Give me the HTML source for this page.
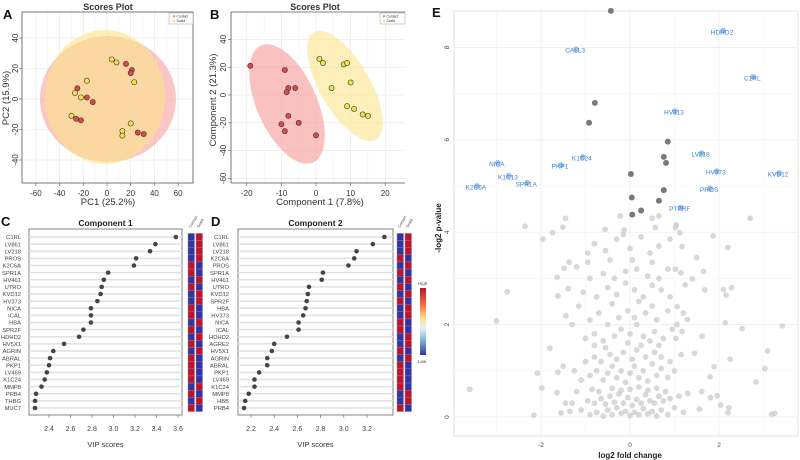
<!DOCTYPE html>
<html><head><meta charset="utf-8">
<style>
html,body{margin:0;padding:0;background:#fff;}
svg{display:block;font-family:"Liberation Sans",sans-serif;}
</style></head>
<body>
<svg id="fig" width="800" height="460" viewBox="0 0 800 460" xmlns="http://www.w3.org/2000/svg">
<g id="gA"></g>
<g id="gB"></g>
<g id="gC"></g>
<g id="gD"></g>
<g id="gE"></g>
</svg>
<script>
// ---- Panel A data ----
const aRedX=[-25,-17,-12,-26,-22,16,21,20,26,31];
const aRedY=[7,1,-2,-13,-14,23,19,17,-22,-23];
const aYelX=[4,8,-17,-27,-22,-30,23,20,13,13];
const aYelY=[26,24,12,4,1,-11,11,-16,-21,-24];
const aTicksX=[-60,-40,-20,0,20,40,60];
const aTicksY=[-40,-20,0,20,40];
// ---- Panel B data ----
const bRedX=[-19,-9,-8,-6,-8.5,-8,-5,-10,-9,0];
const bRedY=[21,18,5,5,2,-15,-20,-21,-26,-29];
const bYelX=[1,2,8,9,10,4.5,9,11,13.5,15];
const bYelY=[26,23,22,23,9,5,-8,-10,-14,-15];
const bTicksX=[-20,-10,0,10,20];
const bTicksY=[-60,-40,-20,0,20,40];
// ---- Panel C data ----
const cNames=["C1RL","LV861","LV218","PROS","K2C6A","SPR1A","HV461","UTRO","KVD12","HV373","NICA","ICAL","HBA","SPR2F","HDHD2","HV5X1","AGRIN","ABRAL","PKP1","LV469","K1C24","MMP8","PRB4","THBG","MUC7"];
const cVip=[3.58,3.39,3.34,3.21,3.19,2.95,2.91,2.89,2.88,2.85,2.79,2.79,2.79,2.72,2.68,2.54,2.44,2.41,2.40,2.38,2.36,2.33,2.28,2.27,2.27];
const cContactHigh=[0,0,0,0,1,1,0,1,0,0,1,1,0,1,0,1,0,1,1,1,1,0,1,0,1];
const cTicks=[2.4,2.6,2.8,3.0,3.2,3.4,3.6];
// ---- Panel D data ----
const dNames=["C1RL","LV861","LV218","K2C6A","PROS","SPR1A","HV461","UTRO","KVD12","SPR2F","HBA","HV373","NICA","ICAL","HDHD2","AGRE2","HV5X1","AGRIN","ABRAL","PKP1","LV469","K1C24","MMP8","HBB","PRB4"];
const dVip=[3.35,3.25,3.11,3.09,3.04,2.82,2.81,2.70,2.69,2.68,2.67,2.65,2.61,2.61,2.51,2.40,2.38,2.34,2.34,2.27,2.23,2.23,2.18,2.15,2.14];
const dContactHigh=[0,0,0,1,0,1,0,1,0,1,0,0,1,1,0,0,1,0,1,1,1,1,0,0,1];
const dTicks=[2.2,2.4,2.6,2.8,3.0,3.2];
// ---- Panel E data ----
const eSigNames=["HDHD2","CALL3","C1RL","HV313","LV218","HV373","KVD12","PROS","PTPRF","K1C24","PKP1","NICA","K1C13","SPR1A","K2C6A"];
const eSigX=[2.09,-1.21,2.77,1.01,1.61,1.95,3.35,1.80,1.14,-1.06,-1.55,-2.97,-2.72,-2.31,-3.44];
const eSigY=[8.36,7.96,7.36,6.62,5.71,5.32,5.28,4.95,4.53,5.63,5.45,5.50,5.22,5.07,5.00];
const eMidX=[-0.43,-0.79,-0.92,0.85,0.76,0.81,0.02,0.76,0.04,0.65,0.25,0.05];
const eMidY=[8.79,6.80,6.37,5.96,5.63,5.50,5.26,4.91,4.75,4.68,4.47,4.38];
const eBgX=[-3.6,-3.0,-2.76,-2.36,-2.16,-2.08,-1.98,-1.96,-1.8,-1.74,-1.64,-1.62,-1.64,-1.62,-1.55,-1.51,-1.5,-1.48,-1.45,-1.44,-1.39,-1.37,-1.35,
1.87,2.2,2.1,2.16,2.28,2.14,2.52,3.42,3.09,3.03,2.83,2.25,1.89,1.8,1.96,2.04,2.22,2.2,3.18,3.25,1.65,1.68,1.62,1.45,1.5,1.4,1.24,1.14,1.17,1.12,1.02,1.29,1.17,1.03,1.06,1.02,1.81,1.61,1.56,1.3,
-1.45,-0.22,0.5,0.65,1.04,2.7,-0.56,-0.13,0.57,
-0.9,-0.75,-0.6,-0.5,-0.4,-0.3,-0.2,-0.1,0,0.1,0.2,0.3,0.4,0.5,0.6,0.7,0.85,1.0,1.2,-1.1,-1.3,-0.95,-0.8,-0.65,-0.55,-0.45,-0.35,-0.25,-0.15,-0.05,0.05,0.15,0.25,0.35,0.45,0.55,0.65,0.75,0.9,1.1,-1.2,-0.85,-0.7,-0.4,-0.2,0.0,0.2,0.4,0.6,0.8,
-1.1,-0.9,-0.75,-0.6,-0.5,-0.4,-0.3,-0.2,-0.1,0.0,0.1,0.2,0.3,0.4,0.5,0.6,0.7,0.85,1.0,-1.0,-0.8,-0.65,-0.45,-0.3,-0.15,0.05,0.15,0.35,0.55,0.7,0.9,1.15,-1.25,-0.55,0.25,-0.05,0.45,
-1.0,-0.8,-0.6,-0.35,-0.2,0.0,0.15,0.3,0.55,0.75,0.95,-0.9,-0.7,-0.5,-0.25,-0.05,0.1,0.35,0.6,0.85,1.05,-1.15,-0.4,0.2,0.5,-1.3,1.2,-0.8,0.65,
-1.05,-0.75,-0.5,-0.3,-0.1,0.1,0.3,0.5,0.7,0.9,-0.9,-0.6,-0.35,-0.1,0.15,0.4,0.65,0.85,-1.2,-0.95,-0.45,0.05,0.5,
-0.8,-0.55,-0.3,0,0.25,0.45,0.65,-0.95,-0.15,0.9];
const eBgY=[0.6,2.08,2.71,4.13,0.04,0.95,0.63,3.85,1.49,3.99,3.02,2.62,0.53,0.97,0.09,4.11,1.1,3.22,0.3,2.19,2.78,3.35,0.12,
3.92,3.67,2.76,2.64,2.8,2.04,1.91,1.97,1.43,1.05,0.76,1.25,1.09,0.87,0.46,0.26,0.2,0.09,0.06,0.08,3.15,2.75,1.75,1.38,3.45,2.99,2.86,3.12,3.69,3.99,4.1,2.11,1.85,1.7,2.39,3.2,0.42,0.55,0.17,0.51,
4.3,4.35,4.3,4.35,4.16,4.3,4.06,4.05,4.1,
0.05,0.1,0.02,0.15,0.05,0.2,0.08,0.12,0.03,0.1,0.05,0.18,0.07,0.12,0.02,0.15,0.05,0.2,0.1,0.15,0.3,0.35,0.3,0.4,0.28,0.45,0.32,0.5,0.3,0.42,0.25,0.38,0.3,0.48,0.35,0.3,0.45,0.35,0.4,0.45,0.55,0.6,0.55,0.62,0.58,0.6,0.65,0.58,0.62,0.55,
0.8,0.9,1.0,0.8,0.95,1.1,0.85,1.0,0.75,0.95,1.1,0.85,1.0,0.78,1.15,0.9,1.05,0.85,1.0,1.2,1.3,1.2,1.35,1.25,1.4,1.25,1.45,1.3,1.4,1.3,1.2,1.35,1.0,1.5,1.55,1.6,1.65,
1.7,1.8,1.65,1.75,1.9,1.8,2.0,1.75,1.85,1.7,1.9,2.1,2.25,2.0,2.15,2.3,2.15,2.25,2.1,2.3,2.0,2.4,2.45,2.5,2.4,2.0,2.25,1.55,1.55,
2.7,2.6,2.8,2.65,2.9,2.75,2.6,2.85,2.75,2.6,3.0,3.1,3.0,3.15,3.2,3.05,3.0,3.2,3.25,3.35,3.4,3.4,3.35,
3.75,3.6,3.85,3.65,3.9,3.55,3.7,3.55,3.95,3.85];
const eTicksX=[-2,0,2];
const eTicksY=[0,2,4,6,8];

const NS="http://www.w3.org/2000/svg";
function mk(parent,tag,attrs,text){const e=document.createElementNS(NS,tag);for(const k in attrs)e.setAttribute(k,attrs[k]);if(text!==undefined)e.textContent=text;parent.appendChild(e);return e;}
function lin(d0,d1,p0,p1){return v=>p0+(v-d0)*(p1-p0)/(d1-d0);}

// ===== Panel A =====
(function(){
const g=document.getElementById('gA');
const X=lin(0,20,107,130.7), Y=lin(0,20,99,68.5);
const L=22,R=193,T=12,B=183;
mk(g,'rect',{x:L,y:T,width:R-L,height:B-T,fill:'#fff'});
aTicksX.forEach(t=>{mk(g,'line',{x1:X(t),x2:X(t),y1:T,y2:B,stroke:'#e6e6e6','stroke-width':0.6});});
[-50,-30,-10,10,30,50].forEach(t=>{mk(g,'line',{x1:X(t),x2:X(t),y1:T,y2:B,stroke:'#f2f2f2','stroke-width':0.5});});
aTicksY.forEach(t=>{mk(g,'line',{x1:L,x2:R,y1:Y(t),y2:Y(t),stroke:'#e6e6e6','stroke-width':0.6});});
const e1=mk(g,'ellipse',{cx:108,cy:99,rx:68,ry:63,fill:'#f7a0a0','fill-opacity':0.6});

const e2=mk(g,'ellipse',{cx:105,cy:97,rx:60,ry:67,fill:'#fbe48a','fill-opacity':0.6});

mk(g,'rect',{x:L,y:T,width:R-L,height:B-T,fill:'none',stroke:'#555','stroke-width':0.8});
aRedX.forEach((v,i)=>{const c=mk(g,'circle',{cx:X(v),cy:Y(aRedY[i]),r:2.6,fill:'#e04848',stroke:'#333','stroke-width':0.6});
});
aYelX.forEach((v,i)=>{const c=mk(g,'circle',{cx:X(v),cy:Y(aYelY[i]),r:2.6,fill:'#f4e04a',stroke:'#333','stroke-width':0.6});
});
aTicksX.forEach(t=>{mk(g,'line',{x1:X(t),x2:X(t),y1:B,y2:B+3,stroke:'#555','stroke-width':0.6});
mk(g,'text',{x:X(t),y:196,'font-size':8,'text-anchor':'middle',fill:'#333'},t);});
aTicksY.forEach(t=>{mk(g,'line',{x1:L-3,x2:L,y1:Y(t),y2:Y(t),stroke:'#555','stroke-width':0.6});
mk(g,'text',{x:0,y:0,'font-size':8,'text-anchor':'middle',fill:'#333',transform:`translate(18,${Y(t)}) rotate(-90)`},t);});
const lg=mk(g,'g',{});
mk(lg,'rect',{x:169,y:13,width:24,height:11,fill:'#fff',stroke:'#888','stroke-width':0.4});
mk(lg,'circle',{cx:174,cy:16.3,r:1.2,fill:'#f08080'});mk(lg,'text',{x:176.5,y:17.5,'font-size':3.4,fill:'#333'},'Contact');
mk(lg,'circle',{cx:174,cy:21,r:1.2,fill:'#f0e070'});mk(lg,'text',{x:176.5,y:22.2,'font-size':3.4,fill:'#333'},'Scald');
mk(g,'text',{x:108,y:10,'font-size':9,'font-weight':'bold','text-anchor':'middle',fill:'#333'},'Scores Plot');
mk(g,'text',{x:108,y:205,'font-size':9.5,'text-anchor':'middle',fill:'#333'},'PC1 (25.2%)');
mk(g,'text',{x:0,y:0,'font-size':9.5,'text-anchor':'middle',fill:'#333',transform:'translate(9,98) rotate(-90)'},'PC2 (15.9%)');
mk(g,'text',{x:3,y:19,'font-size':13,'font-weight':'bold',fill:'#111'},'A');
})();

// ===== Panel B =====
(function(){
const g=document.getElementById('gB');
const X=lin(0,10,316,350.6), Y=lin(0,20,95,67.2);
const L=231,R=405,T=12,B=183;
[-15,-5,5,15].forEach(t=>{mk(g,'line',{x1:X(t),x2:X(t),y1:T,y2:B,stroke:'#f2f2f2','stroke-width':0.5});});
bTicksX.forEach(t=>{mk(g,'line',{x1:X(t),x2:X(t),y1:T,y2:B,stroke:'#e6e6e6','stroke-width':0.6});});
bTicksY.forEach(t=>{mk(g,'line',{x1:L,x2:R,y1:Y(t),y2:Y(t),stroke:'#e6e6e6','stroke-width':0.6});});
const e1=mk(g,'ellipse',{cx:287,cy:104,rx:30,ry:64,fill:'#f7a0a0','fill-opacity':0.65,transform:'rotate(-24 287 104)'});

const e2=mk(g,'ellipse',{cx:345,cy:86,rx:25,ry:62,fill:'#fbe48a','fill-opacity':0.6,transform:'rotate(-30 345 86)'});

mk(g,'line',{x1:L,x2:R,y1:B,y2:B,stroke:'#555','stroke-width':0.8});
mk(g,'line',{x1:L,x2:L,y1:T,y2:B,stroke:'#555','stroke-width':0.8});
mk(g,'line',{x1:L,x2:R,y1:T,y2:T,stroke:'#555','stroke-width':0.8});
bRedX.forEach((v,i)=>{const c=mk(g,'circle',{cx:X(v),cy:Y(bRedY[i]),r:2.6,fill:'#e04848',stroke:'#333','stroke-width':0.6});
});
bYelX.forEach((v,i)=>{const c=mk(g,'circle',{cx:X(v),cy:Y(bYelY[i]),r:2.6,fill:'#f4e04a',stroke:'#333','stroke-width':0.6});
});
bTicksX.forEach(t=>{mk(g,'line',{x1:X(t),x2:X(t),y1:B,y2:B+3,stroke:'#555','stroke-width':0.6});
mk(g,'text',{x:X(t),y:196,'font-size':8,'text-anchor':'middle',fill:'#333'},t);});
bTicksY.forEach(t=>{mk(g,'line',{x1:L-3,x2:L,y1:Y(t),y2:Y(t),stroke:'#555','stroke-width':0.6});
mk(g,'text',{x:0,y:0,'font-size':8,'text-anchor':'middle',fill:'#333',transform:`translate(226,${Y(t)}) rotate(-90)`},t);});
const lg=mk(g,'g',{});
mk(lg,'rect',{x:380,y:13,width:25,height:11,fill:'#fff',stroke:'#888','stroke-width':0.4});
mk(lg,'circle',{cx:384,cy:16.3,r:1.2,fill:'#f08080'});mk(lg,'text',{x:386.5,y:17.5,'font-size':3.4,fill:'#333'},'Contact');
mk(lg,'circle',{cx:384,cy:21,r:1.2,fill:'#f0e070'});mk(lg,'text',{x:386.5,y:22.2,'font-size':3.4,fill:'#333'},'Scald');
mk(g,'text',{x:315,y:10,'font-size':9,'font-weight':'bold','text-anchor':'middle',fill:'#333'},'Scores Plot');
mk(g,'text',{x:320,y:205,'font-size':9.5,'text-anchor':'middle',fill:'#333'},'Component 1 (7.8%)');
mk(g,'text',{x:0,y:0,'font-size':9.5,'text-anchor':'middle',fill:'#333',transform:'translate(216,100) rotate(-90)'},'Component 2 (21.3%)');
mk(g,'text',{x:210,y:19,'font-size':13,'font-weight':'bold',fill:'#111'},'B');
})();

// ===== VIP panels =====
function vip(gid,names,vals,hi,ticks,cfg){
const g=document.getElementById(gid);
const X=lin(ticks[0],ticks[1],cfg.t0,cfg.t1);
const T=229,B=415,y0=237,step=(408-237)/24;
mk(g,'rect',{x:cfg.L,y:T,width:cfg.R-cfg.L,height:B-T,fill:'#fff',stroke:'#777','stroke-width':0.9});
names.forEach((n,i)=>{const y=y0+i*step;
mk(g,'line',{x1:cfg.L,x2:cfg.R,y1:y,y2:y,stroke:'#e0e0e0','stroke-width':1.6});
const lb=mk(g,'text',{x:cfg.lx,y:y+2.2,'font-size':5.8,'text-anchor':'end',fill:'#444'},n);

const c=mk(g,'circle',{cx:X(vals[i]),cy:y,r:2.3,fill:'#444'});

const h1=mk(g,'rect',{x:cfg.hx,y:y-step/2,width:6.5,height:step,fill:hi[i]?'#c0142e':'#3333a8',stroke:'#888','stroke-width':0.4});

const h2=mk(g,'rect',{x:cfg.hx+8,y:y-step/2,width:6.5,height:step,fill:hi[i]?'#3333a8':'#c0142e',stroke:'#888','stroke-width':0.4});

});
ticks.forEach(t=>{mk(g,'line',{x1:X(t),x2:X(t),y1:B,y2:B+3,stroke:'#666','stroke-width':0.6});
mk(g,'text',{x:X(t),y:431,'font-size':7,'text-anchor':'middle',fill:'#444'},t.toFixed(1));});
mk(g,'text',{x:(cfg.L+cfg.R)/2,y:447,'font-size':7.5,'text-anchor':'middle',fill:'#333'},'VIP scores');
mk(g,'text',{x:(cfg.L+cfg.R)/2,y:226,'font-size':8.5,'font-weight':'bold','text-anchor':'middle',fill:'#222'},cfg.title);
mk(g,'text',{x:0,y:0,'font-size':3.8,fill:'#444',transform:`translate(${cfg.hx+3},${T-1}) rotate(-60)`},'Contact');
mk(g,'text',{x:0,y:0,'font-size':3.8,fill:'#444',transform:`translate(${cfg.hx+11},${T-1}) rotate(-60)`},'Scald');
mk(g,'text',{x:cfg.px,y:226,'font-size':13,'font-weight':'bold',fill:'#111'},cfg.letter);
}
vip('gC',cNames,cVip,cContactHigh,cTicks,{L:29,R:182,t0:49,t1:70.5,lx:21,hx:188,title:'Component 1',letter:'C',px:1});
vip('gD',dNames,dVip,dContactHigh,dTicks,{L:238,R:393,t0:251,t1:274.2,lx:229,hx:397,title:'Component 2',letter:'D',px:211});

// ===== Panel E =====
(function(){
const g=document.getElementById('gE');
const X=lin(0,1,630,674.5), Y=lin(0,1,417,370.8);
const L=454,R=798,T=11,B=436;
mk(g,'rect',{x:L,y:T,width:R-L,height:B-T,fill:'#fff',stroke:'#d0d0d0','stroke-width':0.6});
[-3,-1,1,3].forEach(t=>mk(g,'line',{x1:X(t),x2:X(t),y1:T,y2:B,stroke:'#f3f3f3','stroke-width':0.6}));
eTicksX.forEach(t=>mk(g,'line',{x1:X(t),x2:X(t),y1:T,y2:B,stroke:'#ebebeb','stroke-width':0.7}));
[1,3,5,7].forEach(t=>mk(g,'line',{x1:L,x2:R,y1:Y(t),y2:Y(t),stroke:'#f3f3f3','stroke-width':0.6}));
eTicksY.forEach(t=>mk(g,'line',{x1:L,x2:R,y1:Y(t),y2:Y(t),stroke:'#ebebeb','stroke-width':0.7}));
eBgX.forEach((v,i)=>{const c=mk(g,'circle',{cx:X(v),cy:Y(eBgY[i]),r:2.9,fill:'#c8c8c8','fill-opacity':0.7});
});
eMidX.forEach((v,i)=>{const c=mk(g,'circle',{cx:X(v),cy:Y(eMidY[i]),r:3,fill:'#7a7a7a'});
});
eSigX.forEach((v,i)=>{const c=mk(g,'circle',{cx:X(v),cy:Y(eSigY[i]),r:2.9,fill:'#9cc0ec'});

const t=mk(g,'text',{x:X(v)-1,y:Y(eSigY[i])+3.5,'font-size':6.5,'text-anchor':'middle',fill:'#3d82d4'},eSigNames[i]);
});
eTicksX.forEach(t=>mk(g,'text',{x:X(t),y:447,'font-size':6.5,'text-anchor':'middle',fill:'#444'},t));
eTicksY.forEach(t=>mk(g,'text',{x:0,y:0,'font-size':6.5,'text-anchor':'middle',fill:'#444',transform:`translate(449,${Y(t)}) rotate(-90)`},t));
mk(g,'text',{x:630,y:458,'font-size':8,'font-weight':'bold','text-anchor':'middle',fill:'#222'},'log2 fold change');
mk(g,'text',{x:0,y:0,'font-size':8,'font-weight':'bold','text-anchor':'middle',fill:'#222',transform:'translate(441,228) rotate(-90)'},'-log2 p-value');
mk(g,'text',{x:432,y:17,'font-size':13,'font-weight':'bold',fill:'#111'},'E');
// colour key
const defs=mk(g,'defs',{});
const lg=mk(defs,'linearGradient',{id:'heatgrad',x1:0,y1:0,x2:0,y2:1});
[['0','#b2182b'],['0.25','#f46d43'],['0.45','#fee090'],['0.6','#e0f3f8'],['0.8','#74add1'],['1','#313695']].forEach(s=>mk(lg,'stop',{offset:s[0],'stop-color':s[1]}));
const kb=mk(g,'rect',{x:420,y:288,width:6,height:67,fill:'url(#heatgrad)'});

mk(g,'text',{x:418,y:285,'font-size':4.5,fill:'#444'},'High');
mk(g,'text',{x:418,y:363,'font-size':4.5,fill:'#444'},'Low');
})();
</script>
</body></html>
